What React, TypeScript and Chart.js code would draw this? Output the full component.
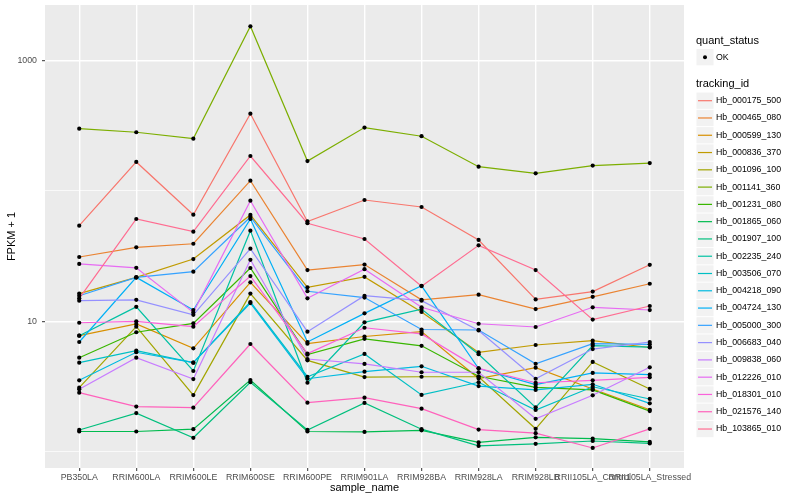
import { useEffect, useRef } from 'react';
import { Chart, registerables } from 'chart.js';

Chart.register(...registerables);

const FONT = '"Liberation Sans", Arial, Helvetica, sans-serif';

const samples = [
  'PB350LA', 'RRIM600LA', 'RRIM600LE', 'RRIM600SE', 'RRIM600PE', 'RRIM901LA',
  'RRIM928BA', 'RRIM928LA', 'RRIM928LB', 'RRII105LA_Control', 'RRII105LA_Stressed',
];

const trackingIds = [
  'Hb_000175_500', 'Hb_000465_080', 'Hb_000599_130', 'Hb_000836_370', 'Hb_001096_100',
  'Hb_001141_360', 'Hb_001231_080', 'Hb_001865_060', 'Hb_001907_100', 'Hb_002235_240',
  'Hb_003506_070', 'Hb_004218_090', 'Hb_004724_130', 'Hb_005000_300', 'Hb_006683_040',
  'Hb_009838_060', 'Hb_012226_010', 'Hb_018301_010', 'Hb_021576_140', 'Hb_103865_010',
];

const colors = [
  '#F8766D', '#EA8331', '#D89000', '#C09B00', '#A3A500', '#7CAE00', '#39B600', '#00BB4E',
  '#00BF7D', '#00C1A3', '#00BFC4', '#00BAE0', '#00B0F6', '#35A2FF', '#9590FF', '#C77CFF',
  '#E76BF3', '#FA62DB', '#FF62BC', '#FF6C91',
];

// FPKM + 1 per sample (same order as samples)
const hb_000175_500 = [54.0, 166.3, 65.6, 389.8, 58.2, 85.0, 75.1, 42.0, 14.7, 16.9, 27.1];
const hb_000465_080 = [31.1, 36.9, 39.3, 119.5, 24.7, 27.2, 14.6, 16.0, 12.4, 15.4, 19.4];
const hb_000599_130 = [7.76, 9.54, 6.21, 19.9, 6.74, 7.65, 8.33, 3.64, 4.41, 3.03, 2.1];
const hb_000836_370 = [16.3, 21.7, 30.0, 65.3, 18.2, 21.9, 11.8, 5.77, 6.58, 7.1, 6.3];
const hb_001096_100 = [3.1, 9.09, 2.72, 16.3, 5.02, 3.74, 3.76, 3.76, 1.5, 4.88, 3.03];
const hb_001141_360 = [299, 281, 251, 1822, 169, 305, 262, 153, 136, 156, 163];
const hb_001231_080 = [5.26, 8.24, 9.65, 25.6, 5.55, 7.34, 6.49, 3.79, 3.12, 2.98, 2.05];
const hb_001865_060 = [1.43, 1.43, 1.49, 3.55, 1.43, 1.42, 1.46, 1.18, 1.29, 1.26, 1.19];
const hb_001907_100 = [1.47, 1.98, 1.28, 3.41, 1.47, 2.37, 1.49, 1.11, 1.15, 1.21, 1.16];
const hb_002235_240 = [7.76, 12.9, 4.16, 49.5, 3.38, 9.82, 12.4, 5.59, 2.19, 6.5, 6.35];
const hb_003506_070 = [4.82, 5.95, 4.82, 14.06, 3.76, 5.62, 2.73, 3.41, 2.09, 3.15, 2.54];
const hb_004218_090 = [3.53, 5.79, 4.82, 13.8, 3.63, 4.11, 4.52, 3.19, 2.98, 3.29, 2.35];
const hb_004724_130 = [6.94, 21.7, 12.2, 60.8, 6.94, 11.5, 18.7, 4.35, 3.27, 4.02, 3.9];
const hb_005000_300 = [15.7, 21.7, 24.0, 63.0, 17.0, 15.2, 8.65, 8.58, 4.73, 6.74, 6.66];
const hb_006683_040 = [14.4, 14.6, 11.2, 36.0, 8.33, 15.7, 14.4, 8.5, 3.63, 6.13, 6.94];
const hb_009838_060 = [3.01, 5.26, 3.61, 29.6, 5.14, 4.71, 4.07, 4.07, 1.79, 2.71, 4.44];
const hb_012226_010 = [27.5, 25.7, 11.7, 84.0, 15.0, 25.1, 12.8, 9.58, 9.04, 12.8, 12.2];
const hb_018301_010 = [9.75, 10.0, 9.09, 22.2, 5.65, 8.92, 8.0, 4.36, 3.38, 3.53, 3.72];
const hb_021576_140 = [2.84, 2.22, 2.18, 6.7, 2.38, 2.6, 2.14, 1.48, 1.39, 1.07, 1.5];
const hb_103865_010 = [15.0, 60.8, 48.6, 184.8, 56.4, 42.7, 18.6, 38.2, 24.7, 10.3, 13.1];

const series = [
  hb_000175_500, hb_000465_080, hb_000599_130, hb_000836_370, hb_001096_100,
  hb_001141_360, hb_001231_080, hb_001865_060, hb_001907_100, hb_002235_240,
  hb_003506_070, hb_004218_090, hb_004724_130, hb_005000_300, hb_006683_040,
  hb_009838_060, hb_012226_010, hb_018301_010, hb_021576_140, hb_103865_010,
];

const yGridValues = [1, 10, 100, 1000];
const yLabelValues = [10, 1000];
const quantStatus = ['OK'];

const panelBackground = {
  id: 'panelBackground',
  beforeDraw(chart: any) {
    const { ctx, chartArea } = chart;
    ctx.save();
    ctx.fillStyle = '#EBEBEB';
    ctx.fillRect(chartArea.left, chartArea.top, chartArea.width, chartArea.height);
    ctx.restore();
  },
};

const ggLegend = {
  id: 'ggLegend',
  afterDraw(chart: any) {
    const ctx = chart.ctx;
    const x0 = chart.chartArea.right + 12.5;
    const keyW = 17;
    const rowH = 17.28;
    ctx.save();
    ctx.textBaseline = 'middle';
    ctx.textAlign = 'left';

    // quant_status legend
    ctx.fillStyle = '#000000';
    ctx.font = `11px ${FONT}`;
    ctx.fillText('quant_status', x0 - 0.5, 40.7);
    quantStatus.forEach((label, i) => {
      const yc = 57.2 + i * rowH;
      ctx.fillStyle = '#F2F2F2';
      ctx.fillRect(x0, yc - rowH / 2 + 0.5, keyW, rowH - 1);
      ctx.fillStyle = '#000000';
      ctx.beginPath();
      ctx.arc(x0 + keyW / 2, yc, 2.0, 0, Math.PI * 2);
      ctx.fill();
      ctx.font = `8.8px ${FONT}`;
      ctx.fillText(label, x0 + keyW + 2.5, yc);
    });

    // tracking_id legend
    ctx.font = `11px ${FONT}`;
    ctx.fillStyle = '#000000';
    ctx.fillText('tracking_id', x0 - 0.5, 84.3);
    trackingIds.forEach((label, i) => {
      const yc = 100.7 + i * rowH;
      ctx.fillStyle = '#F2F2F2';
      ctx.fillRect(x0, yc - rowH / 2 + 0.5, keyW, rowH - 1);
      ctx.strokeStyle = colors[i];
      ctx.lineWidth = 1.2;
      ctx.beginPath();
      ctx.moveTo(x0 + 1.5, yc);
      ctx.lineTo(x0 + keyW - 1.5, yc);
      ctx.stroke();
      ctx.fillStyle = '#000000';
      ctx.font = `8.8px ${FONT}`;
      ctx.fillText(label, x0 + keyW + 2.5, yc);
    });
    ctx.restore();
  },
};

export default function App() {
  const canvasRef = useRef<HTMLCanvasElement | null>(null);

  useEffect(() => {
    document.body.style.margin = '0';
    const canvas = canvasRef.current;
    if (!canvas) return;

    const lineDatasets = series.map((values, s) => ({
      type: 'line' as const,
      label: trackingIds[s],
      data: values.map((v, i) => ({ x: i, y: v })),
      borderColor: colors[s],
      backgroundColor: colors[s],
      borderWidth: 1.2,
      pointRadius: 0,
      pointHoverRadius: 0,
      fill: false,
      tension: 0,
      order: series.length - s,
    }));

    const pointDataset = {
      type: 'scatter' as const,
      label: 'OK',
      data: series.flatMap((values) => values.map((v, i) => ({ x: i, y: v }))),
      pointRadius: 2.1,
      pointHoverRadius: 2.1,
      pointBackgroundColor: '#000000',
      pointBorderWidth: 0,
      showLine: false,
      order: 0,
    };

    const chart = new Chart(canvas, {
      type: 'line',
      data: { datasets: [pointDataset as any, ...lineDatasets] },
      options: {
        animation: false,
        responsive: false,
        devicePixelRatio: 1,
        events: [],
        layout: { padding: { top: 5, right: 116, bottom: 0, left: 0 }, autoPadding: false },
        plugins: { legend: { display: false }, tooltip: { enabled: false } },
        scales: {
          x: {
            type: 'linear',
            min: -0.6,
            max: samples.length - 1 + 0.6,
            afterBuildTicks: (scale: any) => {
              scale.ticks = samples.map((_, i) => ({ value: i }));
            },
            afterFit: (scale: any) => {
              scale.height = 32;
              scale.paddingLeft = 0;
              scale.paddingRight = 0;
            },
            ticks: {
              autoSkip: false,
              maxRotation: 0,
              minRotation: 0,
              padding: 1,
              color: '#4D4D4D',
              font: { family: FONT, size: 8.8 },
              callback: (v: any) => samples[Math.round(Number(v))] ?? '',
            },
            grid: {
              color: '#FFFFFF',
              lineWidth: 1.4,
              drawTicks: true,
              tickLength: 3,
              tickColor: '#333333',
              tickWidth: 1,
            },
            border: { display: false },
            title: {
              display: true,
              text: 'sample_name',
              color: '#000000',
              font: { family: FONT, size: 11 },
              padding: { top: 0, bottom: 5.5 },
            },
          },
          y: {
            type: 'logarithmic',
            min: 0.7513,
            max: 2653,
            afterBuildTicks: (scale: any) => {
              scale.ticks = yGridValues.map((v) => ({ value: v }));
            },
            afterFit: (scale: any) => {
              scale.width = 45;
              scale.paddingTop = 0;
              scale.paddingBottom = 0;
            },
            ticks: {
              autoSkip: false,
              padding: 5,
              color: '#4D4D4D',
              font: { family: FONT, size: 8.8 },
              callback: (v: any) => (yLabelValues.includes(Number(v)) ? String(v) : ''),
            },
            grid: {
              color: '#FFFFFF',
              lineWidth: (ctx: any) => (yLabelValues.includes(ctx.tick?.value) ? 1.4 : 0.7),
              drawTicks: true,
              tickLength: 3,
              tickColor: (ctx: any) =>
                yLabelValues.includes(ctx.tick?.value) ? '#333333' : 'rgba(0,0,0,0)',
              tickWidth: 1,
            },
            border: { display: false },
            title: {
              display: true,
              text: 'FPKM + 1',
              color: '#000000',
              font: { family: FONT, size: 11 },
              padding: { top: 5.5, bottom: 0 },
            },
          },
        },
      },
      plugins: [panelBackground, ggLegend],
    });

    return () => {
      chart.destroy();
    };
  }, []);

  return (
    <div style={{ width: 800, height: 500, background: '#FFFFFF' }}>
      <canvas ref={canvasRef} width={800} height={500} style={{ display: 'block' }} />
    </div>
  );
}
